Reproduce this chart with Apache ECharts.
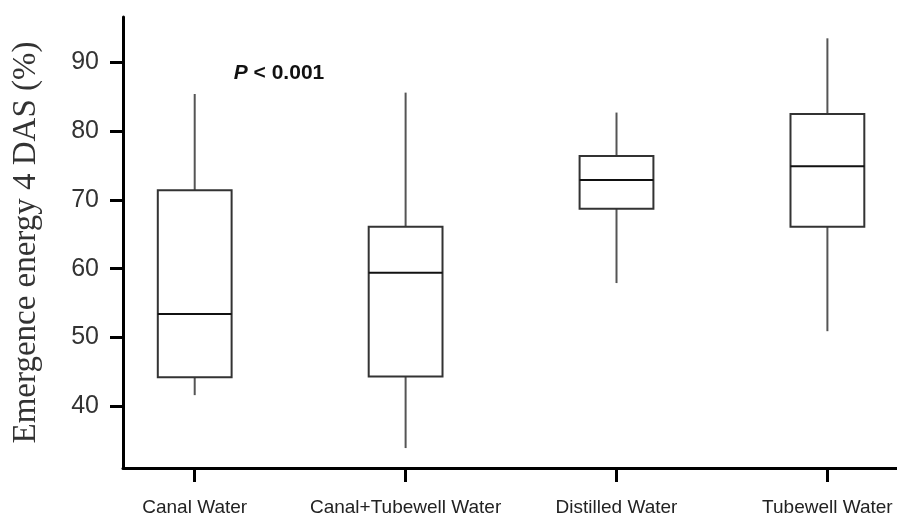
<!DOCTYPE html>
<html>
<head>
<meta charset="utf-8">
<title>Emergence energy boxplot</title>
<script src="https://cdn.jsdelivr.net/npm/echarts@6/dist/echarts.min.js"></script>
<style>
  html, body { margin: 0; padding: 0; background: #fff; }
  #chart { width: 897px; height: 517px; }
</style>
</head>
<body>
<div id="chart"></div>
<script>
// categories on the x axis (placed at 1..4)
var categories = ['Canal Water', 'Canal+Tubewell Water', 'Distilled Water', 'Tubewell Water'];
// box statistics
var whiskerLow = [41.6, 33.9, 57.9, 50.9];
var q1 = [44.2, 44.3, 68.7, 66.1];
var median = [53.4, 59.4, 72.9, 74.9];
var q3 = [71.4, 66.1, 76.4, 82.5];
var whiskerHigh = [85.4, 85.6, 82.7, 93.5];
// tick labels
var yTicks = [40, 50, 60, 70, 80, 90];
var xTicks = [1, 2, 3, 4];

var chart = echarts.init(document.getElementById('chart'));

var boxData = categories.map(function (c, i) {
  return [i + 1, whiskerLow[i], q1[i], median[i], q3[i], whiskerHigh[i]];
});

var halfBox = 0.175; // half box width in x units

function renderBox(params, api) {
  var x = api.value(0);
  var lo = api.coord([x, api.value(1)]);
  var b1 = api.coord([x, api.value(2)]);
  var md = api.coord([x, api.value(3)]);
  var b3 = api.coord([x, api.value(4)]);
  var hi = api.coord([x, api.value(5)]);
  var left = api.coord([x - halfBox, api.value(2)])[0];
  var right = api.coord([x + halfBox, api.value(2)])[0];
  var lineStyle = { stroke: '#333', lineWidth: 2, fill: null };
  return {
    type: 'group',
    children: [
      { type: 'line', shape: { x1: lo[0], y1: lo[1], x2: b1[0], y2: b1[1] }, style: { stroke: '#555', lineWidth: 2 } },
      { type: 'line', shape: { x1: b3[0], y1: b3[1], x2: hi[0], y2: hi[1] }, style: { stroke: '#555', lineWidth: 2 } },
      { type: 'rect', shape: { x: left, y: b3[1], width: right - left, height: b1[1] - b3[1] }, style: lineStyle },
      { type: 'line', shape: { x1: left, y1: md[1], x2: right, y2: md[1] }, style: { stroke: '#111', lineWidth: 2 } }
    ]
  };
}

chart.setOption({
  animation: false,
  backgroundColor: '#fff',
  grid: { left: 123, right: 0, top: 17, bottom: 49, outerBoundsMode: 'none', containLabel: false },
  xAxis: {
    type: 'value',
    min: 0.66,
    max: 4.33,
    splitLine: { show: false },
    axisLine: { show: true, lineStyle: { color: '#000', width: 3 } },
    axisTick: { show: true, customValues: xTicks, length: 14, lineStyle: { color: '#000', width: 3 } },
    axisLabel: {
      customValues: xTicks,
      margin: 30,
      color: '#222',
      fontFamily: 'Liberation Sans, Arial, sans-serif',
      fontSize: 19,
      formatter: function (v) { return categories[Math.round(v) - 1] || ''; }
    }
  },
  yAxis: {
    type: 'value',
    min: 31,
    max: 96.6,
    name: 'Emergence energy 4 DAS (%)',
    nameLocation: 'middle',
    nameRotate: 90,
    nameGap: 80,
    nameMoveOverlap: false,
    nameTextStyle: { fontFamily: 'Liberation Serif, Times New Roman, serif', fontSize: 33, color: '#333' },
    splitLine: { show: false },
    axisLine: { show: true, lineStyle: { color: '#000', width: 3 } },
    axisTick: { show: true, customValues: yTicks, length: 13, lineStyle: { color: '#000', width: 3 } },
    axisLabel: {
      customValues: yTicks,
      margin: 24,
      color: '#333',
      fontFamily: 'Liberation Sans, Arial, sans-serif',
      fontSize: 25
    }
  },
  graphic: [{
    type: 'text',
    x: 279,
    y: 73,
    style: {
      text: '{i|P} < 0.001',
      align: 'center',
      verticalAlign: 'middle',
      font: 'bold 21px Liberation Sans, Arial, sans-serif',
      fill: '#111',
      rich: { i: { fontStyle: 'italic', fontWeight: 'bold', fontSize: 21, fontFamily: 'Liberation Sans, Arial, sans-serif', fill: '#111' } }
    }
  }],
  series: [{
    type: 'custom',
    renderItem: renderBox,
    encode: { x: 0, y: [1, 2, 3, 4, 5] },
    data: boxData
  }]
});
</script>
</body>
</html>
